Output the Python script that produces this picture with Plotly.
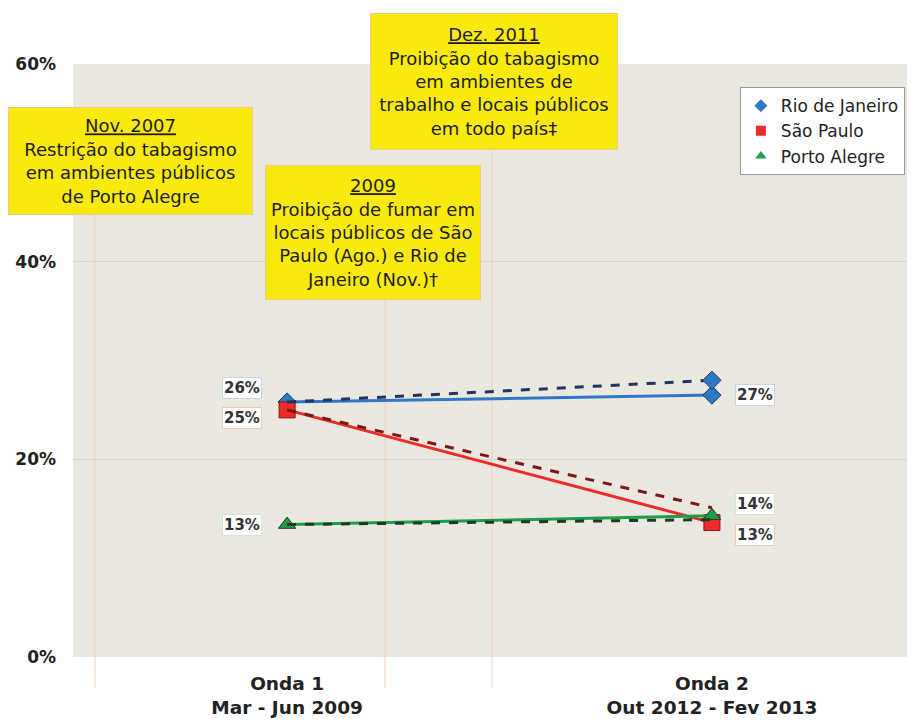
import plotly.graph_objects as go

# dados (% de fumantes expostos) por onda
ondas = [0, 1]
onda_labels = ["Onda 1<br>Mar - Jun 2009", "Onda 2<br>Out 2012 - Fev 2013"]
cidades = ["Rio de Janeiro", "São Paulo", "Porto Alegre"]

rio = [25.8, 26.5]
sao_paulo = [25.0, 13.6]
porto_alegre = [13.4, 14.3]

# linhas tracejadas (tendência)
rio_tend = [25.8, 28.0]
sp_tend = [25.0, 15.1]
pa_tend = [13.4, 13.9]

rotulos_o1 = ["26%", "25%", "13%"]
rotulos_o2 = ["27%", "13%", "14%"]

y_ticks = [0, 20, 40, 60]
y_ticktext = ["0%", "20%", "40%", "60%"]

cores = ["#2f78c8", "#ee2a2a", "#1e9e48"]
cores_escuras = ["#1f3560", "#7e1818", "#1b3d22"]
bordas_rot = ["#c6d4ea", "#f2c6b4", "#cfe6d2"]
simbolos = ["diamond", "square", "triangle-up"]
tamanhos = [14, 16, 15]

FONT = "DejaVu Sans"

fig = go.Figure()

series = [rio, sao_paulo, porto_alegre]
tend = [rio_tend, sp_tend, pa_tend]

for i, nome in enumerate(cidades):
    fig.add_trace(go.Scatter(
        x=ondas, y=series[i], mode="lines+markers", name=nome, showlegend=False,
        line=dict(color=cores[i], width=3),
        marker=dict(symbol=simbolos[i], size=tamanhos[i], color=cores[i],
                    line=dict(color=cores_escuras[i], width=1)),
    ))

for i, nome in enumerate(cidades):
    fig.add_trace(go.Scatter(
        x=ondas, y=tend[i], mode="lines", showlegend=False,
        line=dict(color=cores_escuras[i], width=3, dash="dash"),
    ))

# marcador no fim da tendência do Rio
fig.add_trace(go.Scatter(
    x=[ondas[1]], y=[rio_tend[1]], mode="markers", showlegend=False,
    marker=dict(symbol="diamond", size=14, color=cores[0], line=dict(color=cores_escuras[0], width=1)),
))

# entradas da legenda só com marcador
for i, nome in enumerate(cidades):
    fig.add_trace(go.Scatter(
        x=[None], y=[None], mode="markers", name=nome,
        marker=dict(symbol=simbolos[i], size=10, color=cores[i]),
    ))

# rótulos de valor
shift_o1 = [14, -8, 0]
shift_o2 = [0, -12, 12]
for i in range(3):
    fig.add_annotation(x=ondas[0], y=series[i][0], text=rotulos_o1[i], showarrow=False,
                       xshift=-45, yshift=shift_o1[i], bgcolor="white", bordercolor=bordas_rot[i],
                       borderwidth=1, borderpad=1,
                       font=dict(family=FONT, size=15, color="#333", weight="bold"))
    fig.add_annotation(x=ondas[1], y=series[i][1], text=rotulos_o2[i], showarrow=False,
                       xshift=43, yshift=shift_o2[i], bgcolor="white", bordercolor=bordas_rot[i],
                       borderwidth=1, borderpad=1,
                       font=dict(family=FONT, size=15, color="#333", weight="bold"))

# caixas de eventos (legislação)
eventos = [
    ("<u>Nov. 2007</u><br>Restrição do tabagismo<br>em ambientes públicos<br>de Porto Alegre", 0.0683, 0.8364, 243, 106),
    ("<u>2009</u><br>Proibição de fumar em<br>locais públicos de São<br>Paulo (Ago.) e Rio de<br>Janeiro (Nov.)†", 0.3563, 0.7159, 214, 133),
    ("<u>Dez. 2011</u><br>Proibição do tabagismo<br>em ambientes de<br>trabalho e locais públicos<br>em todo país‡", 0.5, 0.9705, 246, 135),
]
linhas_x = [0.026, 0.3705, 0.4976]
linhas_topo = [0.745, 0.602, 0.855]

for lx, ly in zip(linhas_x, linhas_topo):
    fig.add_shape(type="line", xref="paper", yref="paper", x0=lx, x1=lx, y0=-0.052, y1=ly,
                  line=dict(color="#f6cfc0", width=1), layer="below")

for txt, ax, ay, w, h in eventos:
    fig.add_annotation(xref="paper", yref="paper", x=ax, y=ay, xanchor="center", yanchor="middle",
                       text=txt, showarrow=False,
                       width=w, height=h, align="center", valign="middle",
                       bgcolor="#f8ea0f", bordercolor="#f0c890", borderwidth=1, borderpad=0,
                       font=dict(family=FONT, size=18, color="#1e1e1e"))

# a página tem margem de 8px no body: figura 907x713 para caber na janela
fig.update_layout(
    width=907, height=713,
    margin=dict(l=65, r=0, t=56, b=64, autoexpand=False),
    paper_bgcolor="white", plot_bgcolor="#ebe8e0",
    font=dict(family=FONT, color="#222"),
    legend=dict(x=0.792, y=0.961, xanchor="left", yanchor="top", bgcolor="white",
                bordercolor="#9a9a9a", borderwidth=1, font=dict(family=FONT, size=17, color="#222"),
                itemwidth=30, tracegroupgap=0),
    xaxis=dict(range=[-0.504, 1.478], tickvals=ondas, ticktext=onda_labels, showgrid=False,
               zeroline=False, showline=False, ticks="", ticklabelstandoff=13,
               tickfont=dict(family=FONT, size=18.5, color="#222", weight="bold")),
    yaxis=dict(range=[0, 60], tickvals=y_ticks, ticktext=y_ticktext, showgrid=True,
               gridcolor="#d8d5ce", gridwidth=1, zeroline=False, showline=False,
               tickfont=dict(family=FONT, size=17, color="#222", weight="bold"), ticklabelstandoff=16),
)

fig.write_html("out.html")
